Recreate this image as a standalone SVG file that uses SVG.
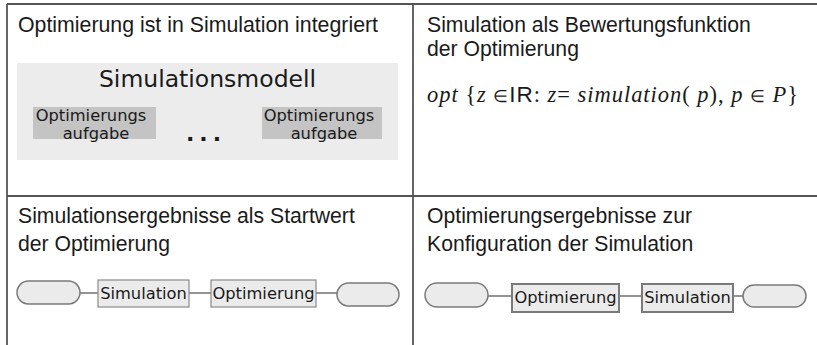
<svg xmlns="http://www.w3.org/2000/svg" width="817" height="345" viewBox="0 0 817 345">
<style>
.grid{stroke:#555;stroke-width:1.8;fill:none}
.h{font-family:"Liberation Sans",Arial,sans-serif;font-size:21.2px;fill:#1a1a1a}
.dv{font-family:"DejaVu Sans",Verdana,sans-serif;fill:#1a1a1a}
.pill{fill:#ebebeb;stroke:#7a7a7a;stroke-width:1.5}
.box{fill:#ebebeb;stroke:#8a8a8a;stroke-width:1.2}
.box2{fill:#ebebeb;stroke:#7a7a7a;stroke-width:2}
.conn{stroke:#707070;stroke-width:1.5;fill:none}
.f{font-family:"Liberation Serif","Times New Roman",serif;font-size:22.5px;font-style:italic;fill:#1a1a1a}
.up{font-style:normal}
.el{font-style:normal;font-size:17px}
.ir{font-family:"Liberation Sans",Arial,sans-serif;font-style:normal}
</style>
<g id="grid">
<line class="grid" x1="7" y1="4" x2="817" y2="4"/>
<line class="grid" x1="7" y1="4" x2="7" y2="345"/>
<line class="grid" x1="413" y1="4" x2="413" y2="345"/>
<line class="grid" x1="7" y1="196" x2="817" y2="196"/>
</g>
<g id="panel1">
<text class="h" x="18" y="32" textLength="360" lengthAdjust="spacingAndGlyphs">Optimierung ist in Simulation integriert</text>
<rect x="17" y="63" width="381" height="97" fill="#ececec"/>
<text class="dv" x="207.5" y="87" font-size="23.5" text-anchor="middle">Simulationsmodell</text>
<g id="task1">
<rect x="33" y="107" width="123" height="32" fill="#c4c4c4"/>
<text class="dv" font-size="16.3" text-anchor="middle"><tspan x="91" y="121">Optimierungs</tspan><tspan x="96" y="139">aufgabe</tspan></text>
</g>
<text class="dv" x="186" y="141" font-size="22" font-weight="bold" letter-spacing="5">...</text>
<g id="task2">
<rect x="262" y="107" width="120" height="32" fill="#c4c4c4"/>
<text class="dv" font-size="16.3" text-anchor="middle"><tspan x="319" y="121">Optimierungs</tspan><tspan x="324" y="139">aufgabe</tspan></text>
</g>
</g>
<g id="panel2">
<text class="h"><tspan x="427" y="32">Simulation als Bewertungsfunktion</tspan><tspan x="427" y="56">der Optimierung</tspan></text>
<text class="f" x="427" y="102" textLength="371" lengthAdjust="spacing">opt <tspan class="up">{</tspan>z <tspan class="el">∈</tspan><tspan class="ir">IR</tspan><tspan class="up">:</tspan> z<tspan class="up">=</tspan> simulation<tspan class="up">(</tspan> p<tspan class="up">),</tspan> p <tspan class="el">∈</tspan> P<tspan class="up">}</tspan></text>
</g>
<g id="panel3">
<text class="h"><tspan x="18" y="223">Simulationsergebnisse als Startwert</tspan><tspan x="18" y="251">der Optimierung</tspan></text>
</g>
<g id="panel4">
<text class="h"><tspan x="427" y="223">Optimierungsergebnisse zur</tspan><tspan x="427" y="251">Konfiguration der Simulation</tspan></text>
</g>
<g id="connectors">
<line class="conn" x1="80" y1="293" x2="98" y2="293"/>
<line class="conn" x1="189" y1="293" x2="211" y2="293"/>
<line class="conn" x1="316" y1="293" x2="337" y2="293"/>
<line class="conn" x1="488" y1="296" x2="512" y2="296"/>
<line class="conn" x1="619" y1="296" x2="642" y2="296"/>
<line class="conn" x1="733" y1="296" x2="743" y2="296"/>
</g>
<g id="start1"><rect class="pill" x="17" y="281" width="63" height="23" rx="11.5"/></g>
<g id="sim1"><rect class="box" x="98" y="280" width="91" height="27"/><text class="dv" x="143.5" y="299" font-size="16.3" text-anchor="middle">Simulation</text></g>
<g id="opt1"><rect class="box" x="211" y="280" width="105" height="27"/><text class="dv" x="263.5" y="299" font-size="16.3" text-anchor="middle">Optimierung</text></g>
<g id="end1"><rect class="pill" x="337" y="283" width="62" height="23" rx="11.5"/></g>
<g id="start2"><rect class="pill" x="425" y="283" width="63" height="24" rx="12"/></g>
<g id="opt2"><rect class="box2" x="512" y="284" width="107" height="28"/><text class="dv" x="565.5" y="303" font-size="16.3" text-anchor="middle">Optimierung</text></g>
<g id="sim2"><rect class="box2" x="642" y="284" width="91" height="28"/><text class="dv" x="687.5" y="303" font-size="16.3" text-anchor="middle">Simulation</text></g>
<g id="end2"><rect class="pill" x="743" y="285" width="63" height="22" rx="11"/></g>
</svg>
